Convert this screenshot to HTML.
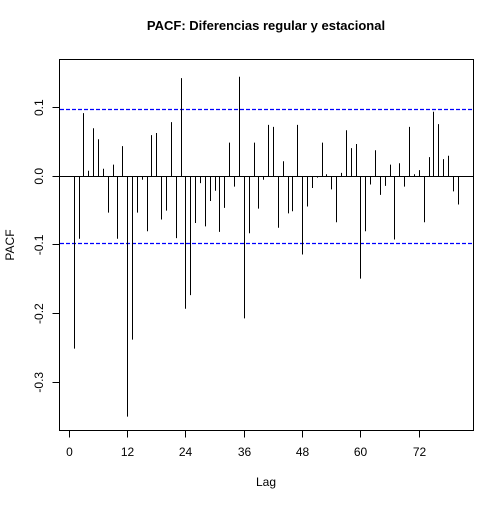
<!DOCTYPE html>
<html><head><meta charset="utf-8"><style>
body{margin:0;background:#fff}
svg text{font-family:"Liberation Sans",Arial,sans-serif;fill:#000}
</style></head><body>
<svg id="chart" width="504" height="504" viewBox="0 0 504 504" xmlns="http://www.w3.org/2000/svg">
<text x="266" y="30" text-anchor="middle" font-size="13" font-weight="bold">PACF: Diferencias regular y estacional</text>
<rect x="59.5" y="59.5" width="414" height="371" fill="none" stroke="#000" stroke-width="1"/>
<g id="marks"></g>
<text x="266" y="486" text-anchor="middle" font-size="12">Lag</text>
<text transform="translate(14,245) rotate(-90)" text-anchor="middle" font-size="12">PACF</text>
</svg>
<script>
const lags = [];
for (let i = 1; i <= 80; i++) lags.push(i);
const pacfValues = [-0.251,-0.091,0.092,0.008,0.070,0.054,0.011,-0.053,0.017,-0.091,
0.044,-0.350,-0.238,-0.053,-0.005,-0.080,0.060,0.063,-0.063,-0.050,
0.079,-0.090,0.143,-0.193,-0.173,-0.068,-0.010,-0.073,-0.036,-0.021,
-0.081,-0.046,0.049,-0.015,0.145,-0.207,-0.083,0.049,-0.047,-0.005,
0.075,0.072,-0.075,0.022,-0.054,-0.051,0.075,-0.114,-0.044,-0.017,
-0.002,0.049,0.003,-0.019,-0.067,0.005,0.067,0.041,0.047,-0.149,
-0.080,-0.012,0.038,-0.027,-0.014,0.017,-0.092,0.019,-0.015,0.072,
0.003,0.009,-0.067,0.028,0.094,0.076,0.025,0.030,-0.022,-0.041];
const xTicks = [0,12,24,36,48,60,72];
const yTicks = [-0.3,-0.2,-0.1,0.0,0.1];
const ciLevel = [0.098];

const NS = "http://www.w3.org/2000/svg";
const X = v => Math.floor(69.3 + v * 4.861) + 0.5;
const Y = v => 176.3 - v * 686.5;
const g = document.getElementById('marks');
function mk(tag, attrs){const e=document.createElementNS(NS,tag);for(const k in attrs)e.setAttribute(k,attrs[k]);g.appendChild(e);return e;}

let z = mk('line',{x1:59.5,x2:473.5,y1:176.5,y2:176.5,stroke:'#000','stroke-width':1});


[ciLevel[0], -ciLevel[0]].forEach((c, i) => {
  const yy = Math.floor(Y(c)) + 0.5;
  const l = mk('line',{x1:60,x2:473,y1:yy,y2:yy,stroke:'#0000ff','stroke-width':1.2,'stroke-dasharray':'4,2'});
  
  
});
lags.forEach((lag, i) => {
  const b = mk('line',{x1:X(lag),x2:X(lag),y1:Y(0),y2:Y(pacfValues[i]),stroke:'#000','stroke-width':1});
  
  
});
xTicks.forEach(t => {
  const l = mk('line',{x1:X(t),x2:X(t),y1:430.5,y2:437.5,stroke:'#000'});
  
  
  const tx = mk('text',{x:X(t),y:456,'text-anchor':'middle','font-size':'12'});
  tx.textContent = String(t);
  
  
});
yTicks.forEach(t => {
  const yy = Math.floor(Y(t)) + 0.5;
  const l = mk('line',{x1:52.5,x2:59.5,y1:yy,y2:yy,stroke:'#000'});
  
  
  const tx = mk('text',{transform:`translate(43,${Y(t)}) rotate(-90)`,'text-anchor':'middle','font-size':'12'});
  tx.textContent = t.toFixed(1);
  
  
});
</script>
</body></html>
